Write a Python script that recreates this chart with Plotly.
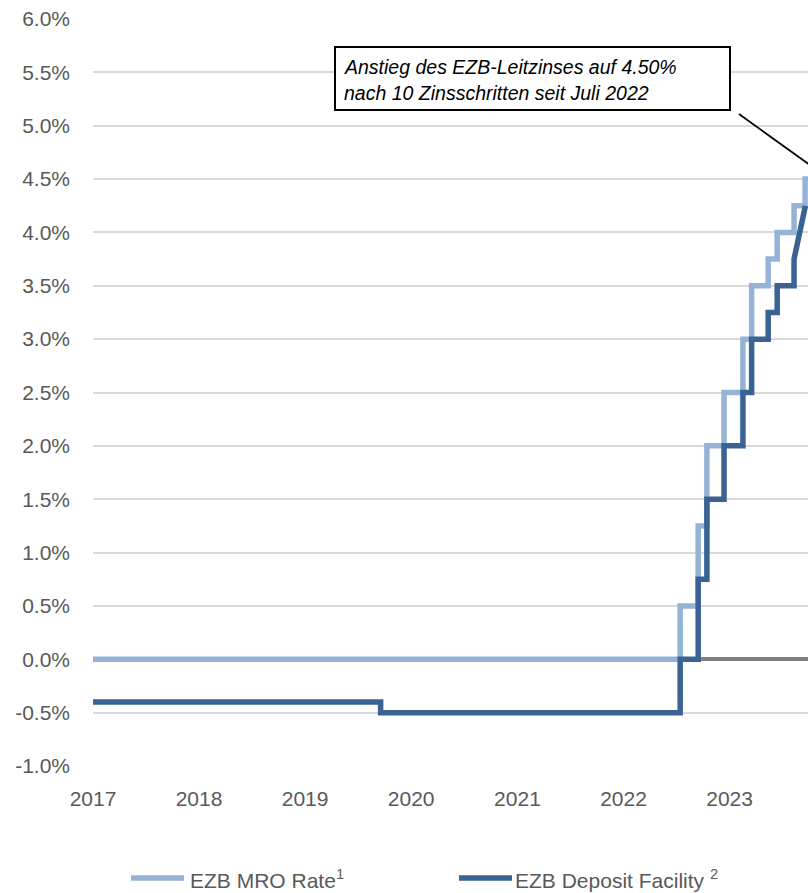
import plotly.graph_objects as go

# ---------------- data ----------------
years = [2017, 2018, 2019, 2020, 2021, 2022, 2023]

mro_dates = ["2017-01-01", "2022-07-15", "2022-09-15", "2022-10-15", "2022-12-13",
             "2023-02-16", "2023-03-18", "2023-05-14", "2023-06-14", "2023-08-11",
             "2023-09-18", "2023-10-31"]
mro_vals = [0.00, 0.50, 1.25, 2.00, 2.50, 3.00, 3.50, 3.75, 4.00, 4.25, 4.50, 4.50]

dfr_dates = ["2017-01-01", "2019-09-18", "2022-07-15", "2022-09-15", "2022-10-15",
             "2022-12-13", "2023-02-16", "2023-03-18", "2023-05-14", "2023-06-14",
             "2023-08-11"]
dfr_vals = [-0.40, -0.50, 0.00, 0.75, 1.50, 2.00, 2.50, 3.00, 3.25, 3.50, 3.75]
dfr_last_date = "2023-09-19"
dfr_last_val = 4.25

y_ticks = [-1.0, -0.5, 0.0, 0.5, 1.0, 1.5, 2.0, 2.5, 3.0, 3.5, 4.0, 4.5, 5.0, 5.5, 6.0]

x_range = ["2017-01-01", "2023-09-28"]

LIGHT = "#95B3D7"
DARK = "#3A6292"
GREY_TXT = "#595959"
FONT = "Liberation Sans, Arial, sans-serif"


def steps(dates, vals):
    xs, ys = [], []
    for i, (d, v) in enumerate(zip(dates, vals)):
        if i > 0:
            xs.append(d)
            ys.append(vals[i - 1])
        xs.append(d)
        ys.append(v)
    return xs, ys


mx, my = steps(mro_dates, mro_vals)
dx, dy = steps(dfr_dates, dfr_vals)
dx.append(dfr_last_date)
dy.append(dfr_last_val)

fig = go.Figure()
fig.add_trace(go.Scatter(x=mx, y=my, mode="lines", name="EZB MRO Rate<sup>1</sup>",
                         line=dict(color=LIGHT, width=5.5), showlegend=False,
                         hoverinfo="skip"))
fig.add_trace(go.Scatter(x=dx, y=dy, mode="lines", name="EZB Deposit Facility <sup>2</sup>",
                         line=dict(color=DARK, width=5.5), showlegend=False,
                         hoverinfo="skip"))

L, R, T, B = 93, 0, 19, 127
W, H = 808, 893
PW, PH = W - L - R, H - T - B


def px(xp):
    return (xp - L) / PW


def py(yp):
    return (H - B - yp) / PH


# annotation box
fig.add_shape(type="rect", xref="paper", yref="paper",
              x0=px(335), x1=px(730), y0=py(110), y1=py(47),
              line=dict(color="black", width=2), fillcolor="white", layer="above")
fig.add_annotation(xref="paper", yref="paper", x=px(342), y=py(67), xanchor="left",
                   yanchor="middle", showarrow=False,
                   text="<i>Anstieg des EZB-Leitzinses auf 4.50%</i>",
                   font=dict(family=FONT, size=19.5, color="black"))
fig.add_annotation(xref="paper", yref="paper", x=px(342), y=py(93), xanchor="left",
                   yanchor="middle", showarrow=False,
                   text="<i>nach 10 Zinsschritten seit Juli 2022</i>",
                   font=dict(family=FONT, size=19.5, color="black"))
# pointer line
fig.add_shape(type="line", xref="paper", yref="paper",
              x0=px(739), y0=py(114), x1=px(830), y1=py(179.5),
              line=dict(color="black", width=1.8))

# custom legend
fig.add_shape(type="line", xref="paper", yref="paper",
              x0=px(131), x1=px(184), y0=py(878), y1=py(878),
              line=dict(color=LIGHT, width=5.5))
fig.add_shape(type="line", xref="paper", yref="paper",
              x0=px(459), x1=px(512), y0=py(878), y1=py(878),
              line=dict(color=DARK, width=5.5))
fig.add_annotation(xref="paper", yref="paper", x=px(188), y=py(879), xanchor="left",
                   yanchor="middle", showarrow=False, text="EZB MRO Rate<sup>1</sup>",
                   font=dict(family=FONT, size=21, color=GREY_TXT))
fig.add_annotation(xref="paper", yref="paper", x=px(513), y=py(879), xanchor="left",
                   yanchor="middle", showarrow=False,
                   text="EZB Deposit Facility <sup>2</sup>",
                   font=dict(family=FONT, size=21, color=GREY_TXT))

fig.update_layout(
    width=W, height=H,
    margin=dict(l=L, r=R, t=T, b=B, pad=0),
    plot_bgcolor="white", paper_bgcolor="white",
    font=dict(family=FONT, size=21, color=GREY_TXT),
    showlegend=False,
)
fig.update_xaxes(
    range=x_range, showgrid=False, zeroline=False, showline=False,
    tickvals=[f"{y}-01-01" for y in years], ticktext=[str(y) for y in years],
    ticks="", ticklabelstandoff=18,
    tickfont=dict(family=FONT, size=21, color=GREY_TXT),
)
fig.update_yaxes(
    range=[-1.0, 6.0], tickvals=y_ticks, ticktext=[f"{v:.1f}%" for v in y_ticks],
    showgrid=True, gridcolor="#D9D9D9", gridwidth=2,
    zeroline=True, zerolinecolor="#808080", zerolinewidth=4,
    showline=False, ticks="", ticklabelstandoff=22,
    tickfont=dict(family=FONT, size=21, color=GREY_TXT),
)

fig.write_html("out.html")
